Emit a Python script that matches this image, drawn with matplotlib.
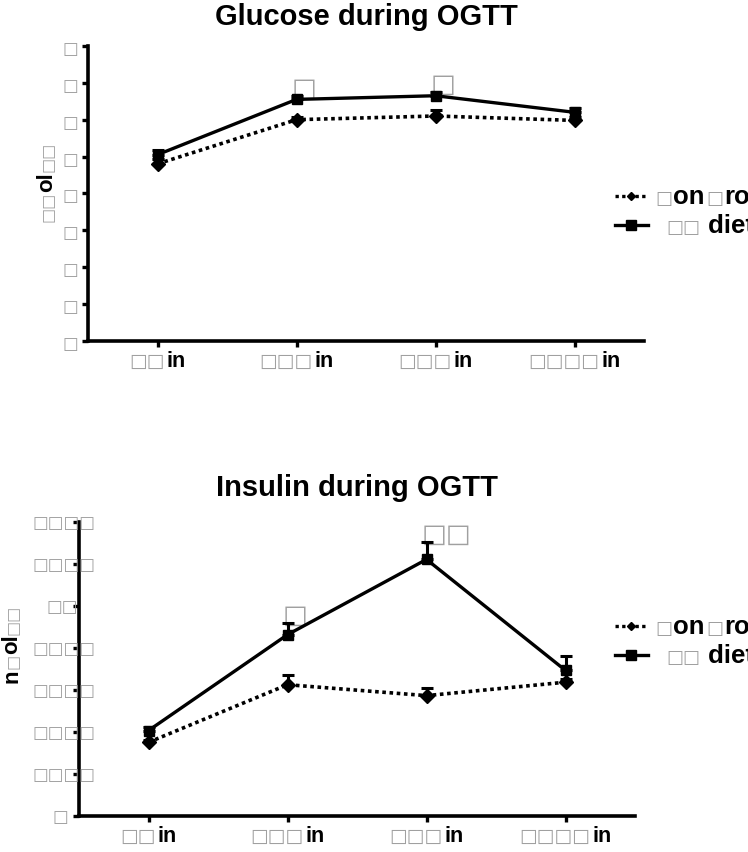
import matplotlib
matplotlib.use('Agg')
import matplotlib.pyplot as plt
from matplotlib.lines import Line2D
from matplotlib.offsetbox import TextArea, HPacker, AnnotationBbox

plt.rcParams['font.family'] = ['Liberation Sans', 'DejaVu Sans']

# tofu box glyph, as it shows in the reference
B = '\u25a1'

times = [B + B + 'in', B * 3 + 'in', B * 3 + 'in', B * 4 + 'in']
series_names = [B + 'on' + B + 'rol', B + B + ' diet']

glucose_ctrl = [4.8, 6.0, 6.1, 5.98]
glucose_ctrl_err = [0.12, 0.08, 0.15, 0.1]
glucose_hf = [5.05, 6.55, 6.65, 6.2]
glucose_hf_err = [0.12, 0.1, 0.1, 0.12]
glucose_yticks = [0, 1, 2, 3, 4, 5, 6, 7, 8]
glucose_ylabels = [B] * 9
glucose_stars = {1: B, 2: B}

insulin_ctrl = [1.76, 3.13, 2.87, 3.19]
insulin_ctrl_err = [0.06, 0.24, 0.18, 0.08]
insulin_hf = [2.04, 4.32, 6.11, 3.47]
insulin_hf_err = [0.08, 0.28, 0.41, 0.35]
insulin_yticks = [0, 1, 2, 3, 4, 5, 6, 7]
insulin_ylabels = [B, B * 4, B * 4, B * 4, B * 4, B * 2, B * 4, B * 4]
insulin_stars = {1: B, 2: B + B}

W, H = 748, 853
GRAY = '#a0a0a0'
fig = plt.figure(figsize=(W / 100, H / 100), dpi=100)


def fx(px):
    return px / W


def fy(py):
    return 1 - py / H


def runs(s):
    out = []
    for ch in s:
        isbox = ch == B
        if out and out[-1][1] == isbox:
            out[-1][0] += ch
        else:
            out.append([ch, isbox])
    return out


def packed(s, size, bsize):
    kids = []
    for txt, isbox in runs(s):
        if isbox:
            kids.append(TextArea(txt, textprops=dict(color=GRAY, fontsize=bsize,
                                                     family='DejaVu Sans')))
        else:
            kids.append(TextArea(txt, textprops=dict(color='black', fontsize=size,
                                                     weight='bold')))
    return HPacker(children=kids, sep=1, pad=0, align='baseline')


def vlabel(ax, s, x, y, size, bsize):
    prev = None
    for txt, isbox in runs(s):
        kw = dict(rotation=90, ha='center', va='bottom')
        if isbox:
            kw.update(color=GRAY, family='DejaVu Sans', fontsize=bsize)
        else:
            kw.update(color='black', weight='bold', fontsize=size)
        if prev is None:
            prev = fig.text(fx(x), fy(y), txt, **kw)
        else:
            prev = ax.annotate(txt, xy=(0.5, 1), xycoords=prev, **kw)


def panel(rect, title, title_base, ctrl, ctrl_err, hf, hf_err, yticks, ylabels,
          stars, ylab, ylab_xy, leg_y, tick_left):
    l, r, t, b = rect
    ax = fig.add_axes([fx(l), fy(b), fx(r) - fx(l), fy(t) - fy(b)])
    x = list(range(len(times)))
    ax.errorbar(x, ctrl, yerr=[[0] * 4, ctrl_err], color='black', lw=2.6,
                ls=(0, (1, 1)), marker='D', ms=7, capsize=4, capthick=2.2,
                elinewidth=2.2, clip_on=False, zorder=3)
    ax.errorbar(x, hf, yerr=[[0] * 4, hf_err], color='black', lw=2.4,
                marker='s', ms=7.5, capsize=4, capthick=2.2, elinewidth=2.2,
                clip_on=False, zorder=4)
    for i, s in stars.items():
        ax.annotate(s, xy=(i, hf[i] + hf_err[i]), xytext=(-5, 1),
                    textcoords='offset pixels', fontsize=19, color=GRAY,
                    family='DejaVu Sans', ha='left', va='baseline')
    ax.set_xlim(-0.5, 3.5)
    ax.set_ylim(yticks[0], yticks[-1])
    for sp in ['top', 'right']:
        ax.spines[sp].set_visible(False)
    for sp in ['left', 'bottom']:
        ax.spines[sp].set_linewidth(2.6)
    ax.set_xticks(x)
    ax.set_xticklabels([])
    ax.set_yticks(yticks)
    ax.tick_params(width=2.4, length=4)
    if tick_left is None:
        ax.tick_params(axis='y', pad=3)
        ax.set_yticklabels(ylabels, color=GRAY, fontsize=12,
                           family='DejaVu Sans')
    else:
        ax.set_yticklabels([])
        for yv, lab in zip(yticks, ylabels):
            ax.annotate(lab, xy=(0, yv), xycoords=('axes fraction', 'data'),
                        xytext=(tick_left - 7 * len(lab), 0),
                        textcoords='offset pixels', ha='left', va='center',
                        color=GRAY, fontsize=12, family='DejaVu Sans',
                        annotation_clip=False)
    for i, lab in enumerate(times):
        ab = AnnotationBbox(packed(lab, 15.5, 13.5), (i, 0),
                            xycoords=ax.get_xaxis_transform(),
                            xybox=(0, -9), boxcoords='offset pixels',
                            box_alignment=(0.5, 1), frameon=False, pad=0,
                            annotation_clip=False)
        ax.add_artist(ab)
    fig.text(fx((l + r) / 2), fy(title_base), title, ha='center', va='baseline',
             fontsize=21, weight='bold')
    vlabel(ax, ylab, ylab_xy[0], ylab_xy[1], 16, 11.5)

    # legend, running off the right edge like the reference
    rows = [('D', (0, (1, 1)), 4.5), ('s', '-', 7)]
    for k, (name, (mk, ls, ms)) in enumerate(zip(series_names, rows)):
        yy = leg_y + 29 * k
        fig.add_artist(Line2D([fx(615), fx(648)], [fy(yy), fy(yy)], color='black',
                              lw=2.4, ls=ls, transform=fig.transFigure))
        fig.add_artist(Line2D([fx(631)], [fy(yy)], color='black', marker=mk,
                              ms=ms, transform=fig.transFigure))
        ab = AnnotationBbox(packed(name, 18.5, 13), (fx(655 + 11 * k), fy(yy)),
                            xycoords='figure fraction', box_alignment=(0, 0.5),
                            frameon=False, pad=0, annotation_clip=False)
        fig.add_artist(ab)
    return ax


panel((88, 644, 47, 341.7), 'Glucose during OGTT', 25, glucose_ctrl,
      glucose_ctrl_err, glucose_hf, glucose_hf_err, glucose_yticks,
      glucose_ylabels, glucose_stars, B + B + 'ol' + B + B, (47, 222), 197, None)
panel((79, 635, 523, 817.3), 'Insulin during OGTT', 496, insulin_ctrl,
      insulin_ctrl_err, insulin_hf, insulin_hf_err, insulin_yticks,
      insulin_ylabels, insulin_stars, 'n' + B + 'ol' + B + B, (12, 683), 627, -19)

fig.savefig('out.png', dpi=100)
